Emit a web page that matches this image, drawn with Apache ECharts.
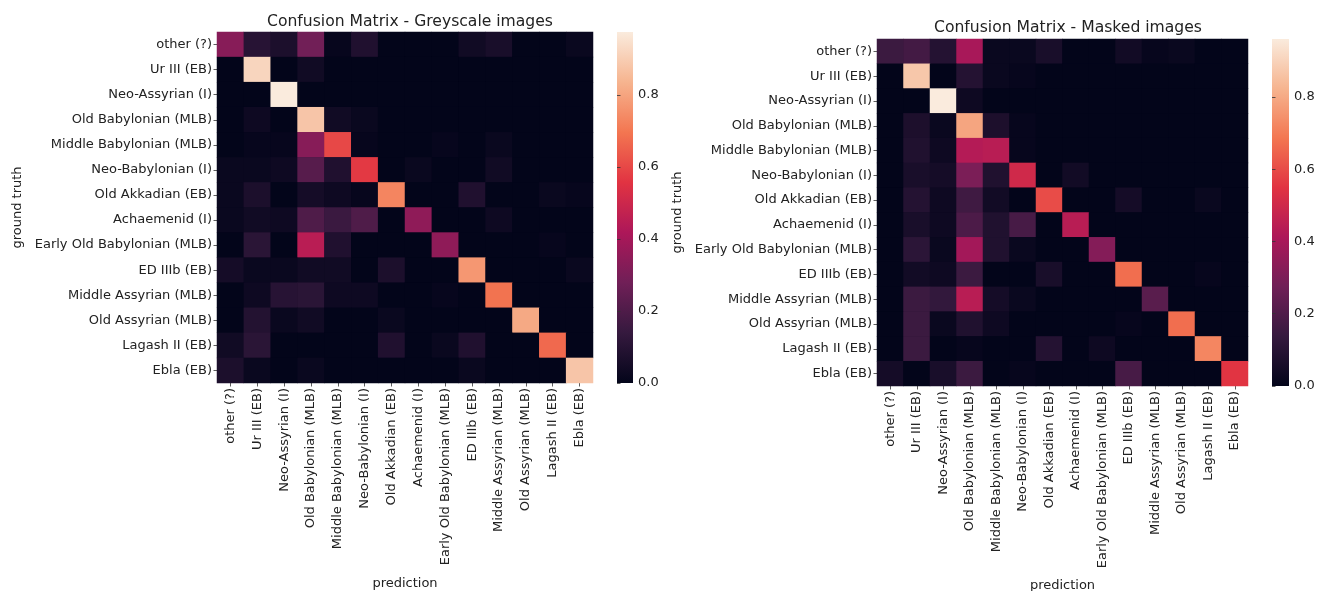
<!DOCTYPE html>
<html>
<head>
<meta charset="utf-8">
<script src="https://cdn.jsdelivr.net/npm/echarts@6/dist/echarts.min.js"></script>
<style>
  html, body { margin: 0; padding: 0; background: #fff; }
  #chart { width: 1320px; height: 591px; }
</style>
</head>
<body>
<div id="chart"></div>
<script>
const classes = [
  'other (?)', 'Ur III (EB)', 'Neo-Assyrian (I)', 'Old Babylonian (MLB)',
  'Middle Babylonian (MLB)', 'Neo-Babylonian (I)', 'Old Akkadian (EB)',
  'Achaemenid (I)', 'Early Old Babylonian (MLB)', 'ED IIIb (EB)',
  'Middle Assyrian (MLB)', 'Old Assyrian (MLB)', 'Lagash II (EB)', 'Ebla (EB)'
];

// rows = ground truth, columns = prediction
const greyscale = [
  [0.33, 0.10, 0.07, 0.28, 0.01, 0.08, 0, 0, 0, 0.04, 0.06, 0, 0, 0.02],
  [0, 0.92, 0, 0.04, 0, 0, 0, 0, 0, 0, 0, 0, 0, 0],
  [0, 0, 0.975, 0, 0, 0, 0, 0, 0, 0, 0, 0, 0, 0],
  [0, 0.03, 0, 0.88, 0.04, 0.02, 0, 0, 0, 0, 0, 0, 0, 0],
  [0, 0.01, 0.01, 0.33, 0.60, 0.01, 0, 0, 0.01, 0, 0.02, 0, 0, 0],
  [0.02, 0.02, 0.03, 0.22, 0.08, 0.57, 0, 0.02, 0, 0, 0.04, 0, 0, 0],
  [0.02, 0.07, 0, 0.05, 0.03, 0.01, 0.73, 0, 0, 0.08, 0, 0, 0.02, 0.01],
  [0.02, 0.04, 0.03, 0.20, 0.15, 0.20, 0, 0.35, 0, 0, 0.03, 0, 0, 0],
  [0, 0.11, 0, 0.45, 0.08, 0, 0, 0, 0.35, 0, 0, 0, 0.01, 0],
  [0.05, 0.02, 0.02, 0.04, 0.04, 0, 0.07, 0, 0, 0.77, 0, 0, 0, 0.02],
  [0, 0.03, 0.10, 0.11, 0.03, 0.03, 0, 0, 0.01, 0, 0.69, 0, 0, 0],
  [0, 0.09, 0.02, 0.04, 0, 0, 0.02, 0, 0, 0, 0, 0.81, 0, 0],
  [0.04, 0.11, 0, 0, 0, 0, 0.08, 0, 0.02, 0.08, 0, 0, 0.67, 0],
  [0.07, 0.02, 0, 0.02, 0, 0, 0, 0, 0, 0.02, 0, 0, 0, 0.88]
];

const masked = [
  [0.15, 0.17, 0.09, 0.40, 0.02, 0.02, 0.06, 0, 0, 0.04, 0.01, 0.02, 0, 0],
  [0, 0.87, 0, 0.09, 0.02, 0.01, 0, 0, 0, 0, 0, 0, 0, 0],
  [0, 0, 0.96, 0.03, 0, 0, 0, 0, 0, 0, 0, 0, 0, 0],
  [0, 0.07, 0.02, 0.79, 0.07, 0.01, 0, 0, 0, 0, 0, 0, 0, 0],
  [0, 0.08, 0.03, 0.43, 0.44, 0.01, 0, 0, 0, 0, 0, 0, 0, 0],
  [0, 0.06, 0.05, 0.30, 0.08, 0.50, 0, 0.04, 0, 0, 0, 0, 0, 0],
  [0, 0.09, 0.03, 0.16, 0.04, 0, 0.60, 0, 0, 0.05, 0, 0, 0.02, 0],
  [0, 0.06, 0.03, 0.19, 0.08, 0.18, 0, 0.44, 0, 0, 0, 0, 0, 0],
  [0, 0.11, 0.02, 0.39, 0.08, 0.02, 0, 0, 0.32, 0, 0, 0, 0, 0],
  [0, 0.04, 0.03, 0.15, 0, 0, 0.06, 0, 0, 0.67, 0, 0, 0.01, 0],
  [0, 0.15, 0.13, 0.44, 0.05, 0.02, 0, 0, 0, 0, 0.22, 0, 0, 0],
  [0, 0.15, 0.02, 0.08, 0.03, 0, 0, 0, 0, 0.01, 0, 0.67, 0, 0],
  [0, 0.15, 0, 0.01, 0, 0, 0.09, 0, 0.03, 0, 0, 0, 0.72, 0],
  [0.05, 0, 0.06, 0.15, 0, 0.01, 0, 0, 0, 0.18, 0, 0, 0, 0.55]
];

const colorbarTicks = [0, 0.2, 0.4, 0.6, 0.8];

// seaborn "rocket", evenly spaced from 0 to 1
const rocket = ['#03051A', '#35193E', '#701F57', '#AD1759', '#E13342', '#F37651', '#F6B48F', '#FAEBDD'];

const chart = echarts.init(document.getElementById('chart'));

const font = 'DejaVu Sans';
const textColor = '#222';

const toCells = m => {
  const cells = [];
  m.forEach((row, r) => row.forEach((v, c) => cells.push([c, r, v])));
  return cells;
};
const maxOf = m => Math.max(...m.map(row => Math.max(...row)));

const gradient = {
  type: 'linear', x: 0, y: 0, x2: 0, y2: 1,
  colorStops: rocket.slice().reverse().map((c, i) => ({ offset: i / (rocket.length - 1), color: c }))
};

const panels = [
  { title: 'Confusion Matrix - Greyscale images', data: greyscale,
    grid: { left: 217, top: 32, width: 376, height: 351 },
    bar: { left: 617, top: 32, width: 16, height: 351 }, titleX: 405, titleY: 9, xNameGap: 194 },
  { title: 'Confusion Matrix - Masked images', data: masked,
    grid: { left: 877, top: 39, width: 371, height: 347 },
    bar: { left: 1272, top: 39, width: 17, height: 347 }, titleX: 1063, titleY: 15, xNameGap: 193 }
];

const grid = [], xAxis = [], yAxis = [], series = [], visualMap = [], title = [];

panels.forEach((p, i) => {
  const vmax = maxOf(p.data);
  const g = grid.length;
  // dark backing hides the seams between heatmap cells
  grid.push(Object.assign({ show: true, borderWidth: 0, backgroundColor: rocket[0], outerBoundsMode: 'none' }, p.grid));
  grid.push(Object.assign({ show: true, borderWidth: 0, backgroundColor: gradient, outerBoundsMode: 'none' }, p.bar));

  title.push({
    text: p.title, left: p.titleX, top: p.titleY, textAlign: 'center',
    textStyle: { fontFamily: font, fontSize: 15.6, fontWeight: 'normal', color: textColor }
  });

  const tick = { show: true, length: 3.5, lineStyle: { color: '#333', width: 0.8 } };
  const label = { fontFamily: font, fontSize: 13, color: textColor, margin: 5 };

  xAxis.push({
    type: 'category', gridIndex: g, data: classes, position: 'bottom',
    name: 'prediction', nameLocation: 'middle', nameGap: p.xNameGap,
    nameTextStyle: { fontFamily: font, fontSize: 13, color: textColor },
    axisLine: { show: false }, axisTick: Object.assign({ alignWithLabel: true }, tick),
    axisLabel: Object.assign({ rotate: 90, interval: 0 }, label),
    splitLine: { show: false }
  });
  yAxis.push({
    type: 'category', gridIndex: g, data: classes, inverse: true,
    name: 'ground truth', nameLocation: 'middle', nameGap: 193, nameRotate: 90,
    nameTextStyle: { fontFamily: font, fontSize: 13, color: textColor },
    axisLine: { show: false }, axisTick: Object.assign({ alignWithLabel: true }, tick),
    axisLabel: Object.assign({ interval: 0 }, label),
    splitLine: { show: false }
  });

  // colorbar axis
  xAxis.push({ type: 'value', gridIndex: g + 1, show: false });
  yAxis.push({
    type: 'value', gridIndex: g + 1, position: 'right', min: 0, max: vmax,
    axisLine: { show: false },
    axisTick: Object.assign({ customValues: colorbarTicks }, tick),
    axisLabel: Object.assign({ customValues: colorbarTicks, formatter: v => v.toFixed(1) }, label),
    splitLine: { show: false }
  });

  series.push({
    type: 'heatmap', xAxisIndex: g, yAxisIndex: g,
    data: toCells(p.data),
    itemStyle: { borderWidth: 0 },
    emphasis: { disabled: true },
    progressive: 0
  });
  visualMap.push({
    show: false, seriesIndex: i, min: 0, max: vmax, dimension: 2,
    inRange: { color: rocket }
  });
});

chart.setOption({
  animation: false,
  backgroundColor: '#fff',
  textStyle: { fontFamily: font },
  title, grid, xAxis, yAxis, series, visualMap
});
</script>
</body>
</html>
